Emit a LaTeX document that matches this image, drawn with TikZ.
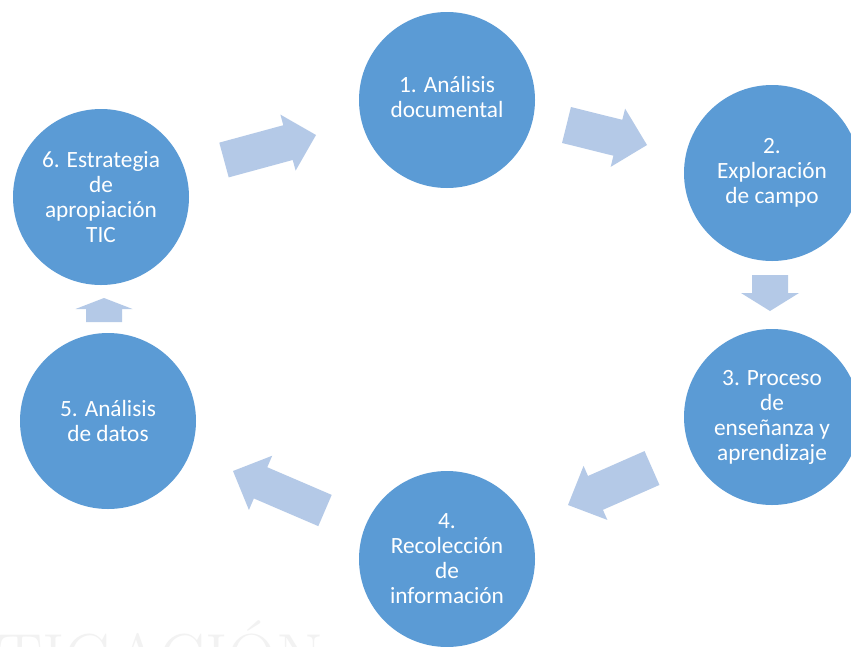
\documentclass[tikz,border=0pt]{standalone}
\usepackage{fontspec}
\setmainfont{Carlito}
\newfontfamily\wmfont{Latin Modern Roman}
\usetikzlibrary{calc}
\definecolor{circblue}{HTML}{5B9BD5}
\definecolor{arrblue}{HTML}{B4C9E7}
\newcommand\blockarrow[5]{% tail, tip, half shaft, half head, head length
  \coordinate (ba-h) at ($(#2)!#5!(#1)$);
  \fill[arrowfill] ($(#1)!#3!90:(#2)$) -- ($(ba-h)!#3!90:(#2)$) -- ($(ba-h)!#4!90:(#2)$) -- (#2)
    -- ($(ba-h)!#4!-90:(#2)$) -- ($(ba-h)!#3!-90:(#2)$) -- ($(#1)!#3!-90:(#2)$) -- cycle;}
\begin{document}
\begin{tikzpicture}[x=1pt,y=1pt,
  circ/.style={circle, fill=circblue, minimum size=176pt, inner sep=0pt, text=white,
    align=center, font=\fontsize{23.3}{25}\selectfont},
  arrowfill/.style={fill=arrblue}]
\useasboundingbox (0,0) rectangle (851,-646);
\fill[white] (0,0) rectangle (851,-646);
% faint watermark
\node[anchor=base west, inner sep=0pt, text=black!5, font=\wmfont\fontsize{68}{68}\selectfont] (wm) at (-3,-681) {TIGACIÓN};
% circles
\node[circ] (c1) at (447,-100) {\raisebox{3pt}{\begin{tabular}{@{}c@{}}1. Análisis\\documental\end{tabular}}};
\node[circ] (c2) at (772,-173) {2.\\Exploración\\de campo};
\node[circ] (c3) at (772,-417) {3. Proceso\\de\\enseñanza y\\aprendizaje};
\node[circ] (c4) at (447,-559) {4.\\Recolección\\de\\información};
\node[circ] (c5) at (108,-421) {5. Análisis\\de datos};
\node[circ] (c6) at (101,-197) {6. Estrategia\\de\\apropiación\\TIC};
% arrow anchor points
\coordinate (a61t) at (224,-160); \coordinate (a61p) at (316,-135);
\coordinate (a12t) at (566.5,-125); \coordinate (a12p) at (647,-145);
\coordinate (a23t) at (770,-275); \coordinate (a23p) at (770,-311);
\coordinate (a34t) at (652,-468); \coordinate (a34p) at (568,-505);
\coordinate (a45t) at (325,-510.5); \coordinate (a45p) at (233,-471);
\coordinate (a56t) at (104,-322); \coordinate (a56p) at (104,-298);
% block arrows
\blockarrow{a61t}{a61p}{18pt}{29pt}{29pt}
\blockarrow{a12t}{a12p}{18.5pt}{30pt}{30pt}
\blockarrow{a23t}{a23p}{18pt}{29pt}{18pt}
\blockarrow{a34t}{a34p}{18.5pt}{29.5pt}{30pt}
\blockarrow{a45t}{a45p}{17pt}{29.5pt}{30pt}
\blockarrow{a56t}{a56p}{18pt}{28.5pt}{11pt}
\end{tikzpicture}
\end{document}
